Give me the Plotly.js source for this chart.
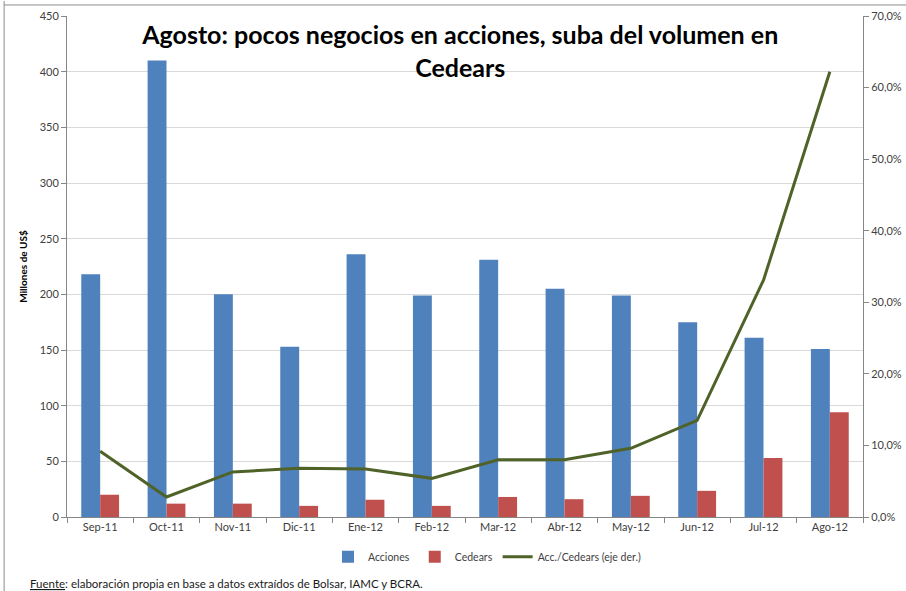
<!DOCTYPE html>
<html>
<head>
<meta charset="utf-8">
<script src="https://cdn.plot.ly/plotly-3.0.1.min.js"></script>
<style>html,body{margin:0;padding:0;background:#fff}#chart{width:906px;height:591px}</style>
</head>
<body>
<div id="chart"></div>
<script>
const categories = ["Sep-11","Oct-11","Nov-11","Dic-11","Ene-12","Feb-12","Mar-12","Abr-12","May-12","Jun-12","Jul-12","Ago-12"];
const acciones = [218, 410, 200, 153, 236, 199, 231, 205, 199, 175, 161, 151];
const cedears = [20, 12, 12, 10, 15.5, 10, 18, 16, 19, 23.5, 53, 94];
const ratio = [0.092, 0.028, 0.063, 0.068, 0.067, 0.054, 0.080, 0.080, 0.096, 0.135, 0.331, 0.622];
const leftTicks = [0, 50, 100, 150, 200, 250, 300, 350, 400, 450];
const rightTicks = [0, 0.1, 0.2, 0.3, 0.4, 0.5, 0.6, 0.7];

const FONT = "Lato, 'Liberation Sans', sans-serif";
const traces = [
  {type: "bar", name: "Acciones", x: categories, y: acciones, marker: {color: "#4F81BD"}},
  {type: "bar", name: "Cedears", x: categories, y: cedears, marker: {color: "#C0504D"}},
  {type: "scatter", mode: "lines", name: "Acc./Cedears (eje der.)", x: categories, y: ratio, yaxis: "y2",
   line: {color: "#4F6228", width: 3}}
];

const layout = {
  width: 906, height: 591,
  margin: {l: 67, r: 43, t: 16, b: 74},
  paper_bgcolor: "#fff", plot_bgcolor: "#fff",
  separators: ",.",
  font: {family: FONT, size: 11, color: "#404040"},
  barmode: "group", bargap: 0.43, bargroupgap: 0,
  title: {
    text: "Agosto: pocos negocios en acciones, suba del volumen en<br>Cedears",
    font: {family: FONT, size: 25, color: "#000", weight: "bold"},
    x: 0.508, xref: "container", xanchor: "center",
    y: 0.925, yref: "container", yanchor: "top"
  },
  xaxis: {
    type: "category", showline: true, linecolor: "#868686", linewidth: 1,
    ticks: "outside", tickson: "boundaries", ticklen: 5, tickcolor: "#868686",
    showgrid: false, tickfont: {size: 11, color: "#404040"}
  },
  yaxis: {
    range: [0, 450], tickvals: leftTicks, showline: true, linecolor: "#868686",
    ticks: "outside", ticklen: 5, tickcolor: "#868686",
    gridcolor: "#D9D9D9", zeroline: false,
    tickfont: {size: 11, color: "#404040"},
    title: {text: "Millones de US$", font: {size: 10, color: "#000", weight: "bold"}, standoff: 10}
  },
  yaxis2: {
    overlaying: "y", side: "right", range: [0, 0.7], tickvals: rightTicks, tickformat: ".1%",
    showline: true, linecolor: "#868686", ticks: "outside", ticklen: 5, tickcolor: "#868686",
    showgrid: false, zeroline: false, tickfont: {size: 11, color: "#404040"}
  },
  showlegend: true,
  legend: {orientation: "h", x: 0.362, xanchor: "left", xref: "container", y: 0.058, yref: "container", yanchor: "middle",
           font: {size: 10.5, color: "#404040"}, traceorder: "normal"},
  annotations: [
    {text: "<u>Fuente</u>: elaboración propia en base a datos extraídos de Bolsar, IAMC y BCRA.",
     xref: "paper", yref: "paper", x: -0.049, y: -0.132, xanchor: "left", yanchor: "middle",
     showarrow: false, font: {size: 11.5, color: "#1a1a1a"}}
  ],
  shapes: [
    {type: "line", xref: "paper", yref: "paper", x0: -0.079, x1: -0.079, y0: 1.03, y1: -0.2, line: {color: "#8c8c8c", width: 1}},
    {type: "line", xref: "paper", yref: "paper", x0: -0.079, x1: 1.06, y0: 1.022, y1: 1.022, line: {color: "#8c8c8c", width: 1}}
  ]
};
Plotly.newPlot("chart", traces, layout, {displayModeBar: false});
</script>
</body>
</html>
